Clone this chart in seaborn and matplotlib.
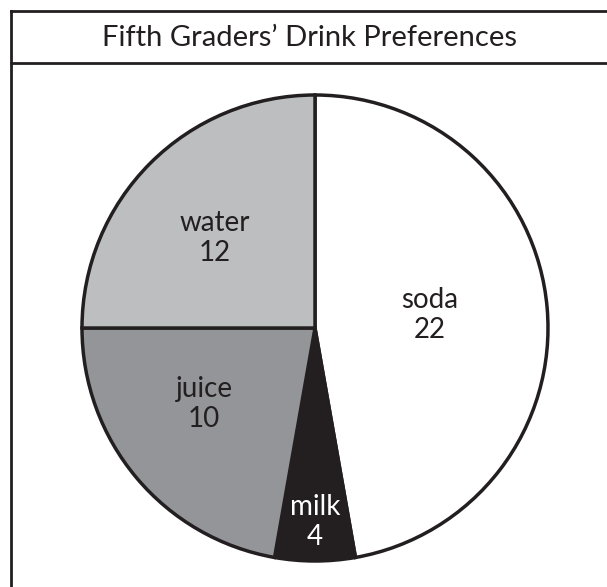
import matplotlib
matplotlib.use("Agg")
import matplotlib.pyplot as plt
import seaborn as sns

categories = ["soda", "milk", "juice", "water"]
values = [22, 4, 10, 12]
# slice sizes as drawn in the picture (degrees)
slice_degrees = [170, 20, 80, 90]
title = "Fifth Graders\u2019 Drink Preferences"

sns.set_theme(style="white")
plt.rcParams['font.family'] = ['Lato', 'DejaVu Sans']

colors = ["#ffffff", "#231f20", "#939598", "#bcbec0"]
text_colors = ["#231f20", "#ffffff", "#231f20", "#231f20"]
edge = "#231f20"

W, H = 607, 587
fig = plt.figure(figsize=(W / 100, H / 100), dpi=100)
ax = fig.add_axes([0, 0, 1, 1])

def py(y):
    return H - y

cx, cy, r = 315, py(328), 233
ax.pie(slice_degrees, colors=colors, startangle=90, counterclock=False,
       center=(cx, cy), radius=r, frame=True,
       wedgeprops=dict(edgecolor=edge, linewidth=2.5))
ax.set_xlim(0, W)
ax.set_ylim(0, H)
ax.set_aspect("equal")
ax.axis("off")

# border (left and top only, the rest is cut off) and title rule
ax.plot([11, 11], [py(11), py(H + 5)], color=edge, linewidth=2, solid_capstyle="projecting")
ax.plot([11, W + 5], [py(11), py(11)], color=edge, linewidth=2, solid_capstyle="projecting")
ax.plot([11, W + 5], [py(63), py(63)], color=edge, linewidth=2)
ax.text(309, py(38), title, ha="center", va="center", fontsize=21, color=edge)

label_pos = [(430, 315), (315, 522), (204, 404), (215, 238)]
for cat, val, (lx, ly), tc in zip(categories, values, label_pos, text_colors):
    ax.text(lx, py(ly), f"{cat}\n{val}", ha="center", va="center", fontsize=20,
            color=tc, linespacing=1.15)

fig.savefig("out.png", dpi=100)
